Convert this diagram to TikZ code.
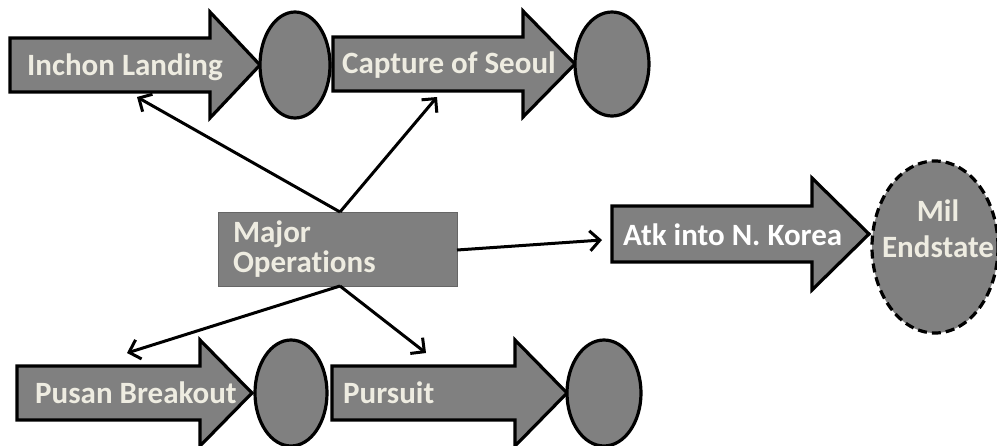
\documentclass[tikz,border=0pt]{standalone}
\usepackage{fontspec}
\setmainfont{Carlito}[Ligatures=NoCommon]
\usetikzlibrary{arrows.meta,shapes.geometric}
\definecolor{phasegray}{HTML}{808080}
\definecolor{boxgray}{HTML}{7F7F7F}
\definecolor{cream}{HTML}{EEECE1}
\tikzset{
  phase/.style={fill=phasegray,draw=black,line width=3.2pt,line join=miter},
  decision/.style={ellipse,fill=phasegray,draw=black,line width=3.2pt,inner sep=0pt},
  label/.style={font=\bfseries\fontsize{31}{31}\selectfont,text=cream,inner sep=0pt},
  link/.style={line width=3pt,-{Straight Barb[length=10pt,width=20pt,line width=3pt]}},
}
\begin{document}
\begin{tikzpicture}[x=1pt,y=-1pt]
\useasboundingbox (0,0) rectangle (997,445);

% block arrows: shaft left, shaft half-height, head start, head half-height, tip, centre line
\newcommand{\phasearrow}[6]{%
  \path[phase] (#1,#6-#2) -- (#3,#6-#2) -- (#3,#6-#4) -- (#5,#6) -- (#3,#6+#4)
    -- (#3,#6+#2) -- (#1,#6+#2) -- cycle;}

% top row
\phasearrow{10}{27}{210}{53}{260}{65}
\node[label,anchor=base west] (inchon) at (27,75) {Inchon Landing};
\node[decision,minimum width=70pt,minimum height=106pt] (e1) at (295,65) {};
\phasearrow{333}{27}{523}{53}{575}{64}
\node[label,anchor=base west] (seoul) at (342,73) {Capture of Seoul};
\node[decision,minimum width=74pt,minimum height=104pt] (e2) at (612,64) {};

% bottom row
\phasearrow{17}{27}{200}{53}{252}{393}
\node[label,anchor=base west] (pusan) at (35,403) {Pusan Breakout};
\node[decision,minimum width=72pt,minimum height=106pt] (e3) at (291,393) {};
\phasearrow{332}{27}{515}{53}{567}{393}
\node[label,anchor=base west] (pursuit) at (343,403) {Pursuit};
\node[decision,minimum width=74pt,minimum height=106pt] (e4) at (604,393) {};

% attack north and end state
\phasearrow{612}{28}{812}{56}{869}{234}
\node[label,text=white,anchor=base west] (atk) at (623,245) {Atk into N. Korea};
\node[decision,dashed,dash pattern=on 9pt off 5pt,minimum width=126pt,minimum height=172pt] (mil) at (935,247) {};
\node[label,align=center,font=\bfseries\fontsize{31}{36}\selectfont] (miltext) at (938,229) {Mil\\Endstate};

% central box
\node[draw=black!60,line width=0.8pt,fill=boxgray,minimum width=239pt,minimum height=74pt,
      text width=209pt,align=left,text=cream,inner sep=0pt,
      font=\bfseries\fontsize{31}{30}\selectfont] (major) at (337.5,249) {Major\\Operations};

% connector ends on the phases
\coordinate (inchonIn) at (137,97);
\coordinate (seoulIn) at (437,97);
\coordinate (atkIn) at (602,240);
\coordinate (pusanIn) at (127,353);
\coordinate (pursuitIn) at (426,353);
\coordinate (majorTop) at (340,212);
\coordinate (majorBot) at (340,286);
\coordinate (majorRight) at (457,250);

\draw[link] (majorTop) -- (inchonIn);
\draw[link] (majorTop) -- (seoulIn);
\draw[link] (majorRight) -- (atkIn);
\draw[link] (majorBot) -- (pusanIn);
\draw[link] (majorBot) -- (pursuitIn);
\end{tikzpicture}
\end{document}
